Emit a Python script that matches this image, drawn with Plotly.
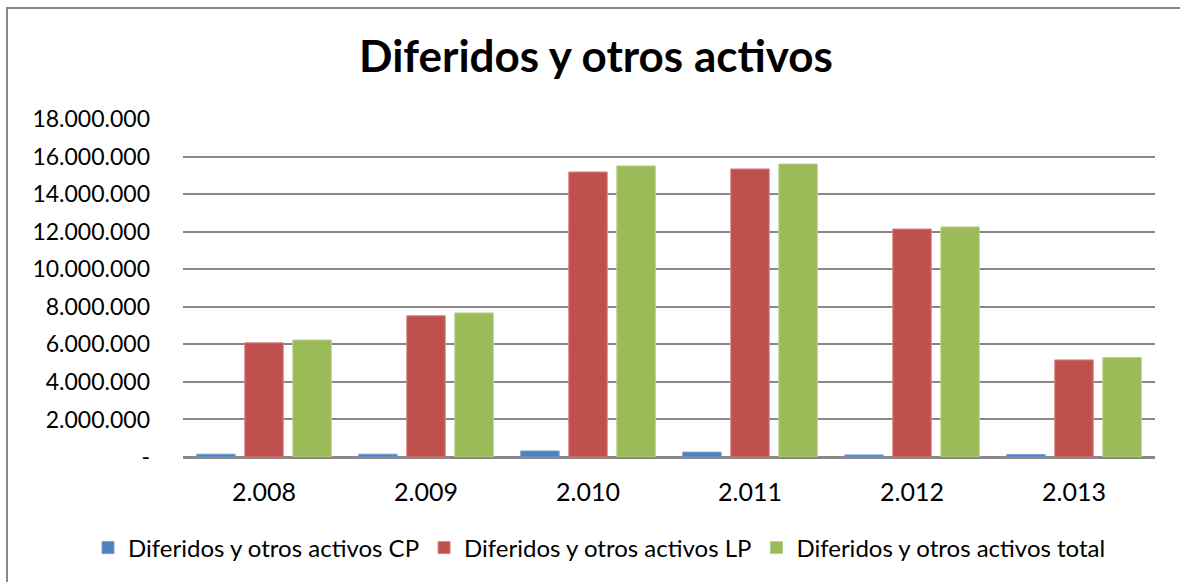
import plotly.graph_objects as go

years = ["2.008", "2.009", "2.010", "2.011", "2.012", "2.013"]
cp = [150000, 150000, 320000, 260000, 110000, 130000]
lp = [6080000, 7520000, 15180000, 15340000, 12140000, 5170000]
total = [6230000, 7670000, 15500000, 15600000, 12250000, 5300000]

series_names = ["Diferidos y otros activos CP", "Diferidos y otros activos LP", "Diferidos y otros activos total"]
colors = ["#4F81BD", "#C0504D", "#9BBB59"]
edge = ["#7A9FD0", "#D88482", "#B7D08A"]

tick_vals = [0, 2000000, 4000000, 6000000, 8000000, 10000000, 12000000, 14000000, 16000000, 18000000]
tick_text = ["-", "2.000.000", "4.000.000", "6.000.000", "8.000.000", "10.000.000",
             "12.000.000", "14.000.000", "16.000.000", "18.000.000"]

fig = go.Figure()
for name, vals, c, e in zip(series_names, [cp, lp, total], colors, edge):
    fig.add_trace(go.Bar(x=years, y=vals, name=name, marker=dict(color=c, line=dict(color=e, width=1))))

W, H = 1180, 582
ml, mr, mt, mb = 183, 25, 119, 125
pw, ph = W - ml - mr, H - mt - mb

def px_x(p):
    return (p - ml) / pw

def px_y(p):
    return (H - mb - p) / ph

fig.update_layout(
    width=W, height=H,
    margin=dict(l=ml, r=mr, t=mt, b=mb, autoexpand=False),
    paper_bgcolor="white", plot_bgcolor="white",
    barmode="group", bargap=0.11, bargroupgap=0.2,
    font=dict(family="Lato", color="black"),
    title=dict(text="<b>Diferidos y otros activos</b>", x=596 / W, xanchor="center", xref="container",
               y=1 - 57 / H, yanchor="middle", font=dict(family="Lato", size=44, color="black")),
    showlegend=True,
    legend=dict(orientation="h", x=px_x(88), xanchor="left", xref="paper",
                y=px_y(548), yanchor="middle", yref="paper",
                font=dict(family="Lato", size=24, color="black"),
                itemwidth=30, traceorder="normal"),
    xaxis=dict(showgrid=False, showline=False, ticks="", ticklabelstandoff=18, automargin=False,
               tickfont=dict(family="Lato", size=25, color="black")),
    yaxis=dict(range=[0, 18000000], tickvals=tick_vals, ticktext=tick_text, automargin=False,
               showgrid=True, gridcolor="#888888", gridwidth=1.5,
               zeroline=True, zerolinecolor="#888888", zerolinewidth=2.5,
               showline=False, ticks="", ticklabelstandoff=32,
               tickfont=dict(family="Lato", size=23, color="black")),
    shapes=[dict(type="rect", xref="paper", yref="paper",
                 x0=px_x(7), x1=px_x(1195), y0=px_y(597), y1=px_y(8),
                 line=dict(color="#888888", width=2), fillcolor="rgba(0,0,0,0)", layer="below")],
)

fig.write_html("out.html", config={"displayModeBar": False},
               post_script="document.body.style.margin='0';document.body.style.overflow='hidden';")
